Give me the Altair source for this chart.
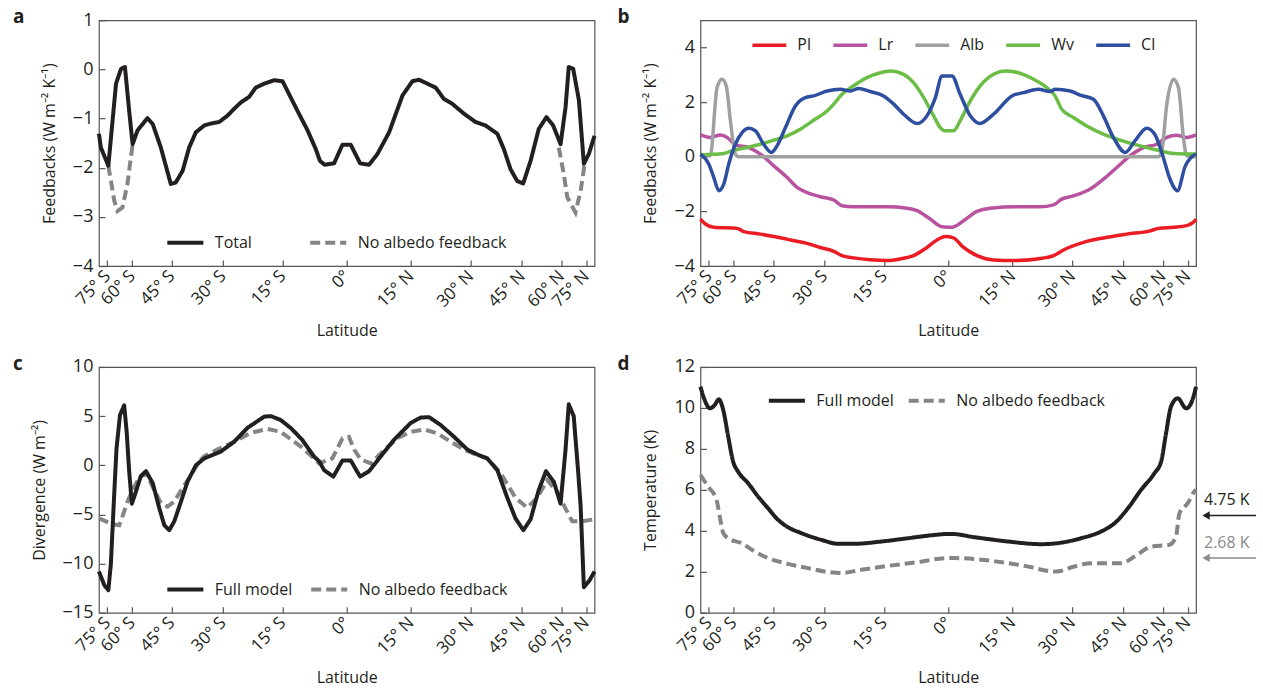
import altair as alt
import numpy as np
import pandas as pd

# ---------------- data (x = sine of latitude) ----------------
TICK_LAT = [-75, -60, -45, -30, -15, 0, 15, 30, 45, 60, 75]
TICK_S = [float(np.sin(np.radians(a))) for a in TICK_LAT]

# panel a
A_TOTAL_X = [-1.0, -0.992, -0.962, -0.931, -0.911, -0.895, -0.878, -0.864, -0.844, -0.804, -0.783, -0.75, -0.71, -0.69,
             -0.662, -0.636, -0.609, -0.575, -0.548, -0.515, -0.481, -0.454, -0.427, -0.394, -0.367, -0.333, -0.293,
             -0.259, -0.233, -0.199, -0.158, -0.125, -0.108, -0.089, -0.051, -0.017, 0.016, 0.054, 0.09, 0.124, 0.171,
             0.225, 0.265, 0.292, 0.359, 0.392, 0.426, 0.473, 0.52, 0.56, 0.608, 0.634, 0.661, 0.688, 0.712, 0.742,
             0.775, 0.806, 0.833, 0.863, 0.883, 0.896, 0.914, 0.937, 0.957, 0.977, 1.0]
A_TOTAL_Y = [-1.31, -1.59, -1.96, -0.29, 0.01, 0.05, -0.84, -1.52, -1.24, -0.99, -1.11, -1.59, -2.33, -2.30,
             -2.06, -1.59, -1.28, -1.14, -1.10, -1.07, -0.94, -0.80, -0.67, -0.56, -0.37, -0.29, -0.22,
             -0.24, -0.50, -0.84, -1.24, -1.62, -1.86, -1.94, -1.91, -1.53, -1.53, -1.91, -1.94, -1.72, -1.28,
             -0.53, -0.24, -0.21, -0.37, -0.60, -0.70, -0.90, -1.07, -1.14, -1.31, -1.62, -2.03, -2.27, -2.32, -1.86,
             -1.21, -0.97, -1.14, -1.52, -0.77, 0.05, 0.01, -0.63, -1.92, -1.72, -1.35]
A_NOALB_S_X = [-0.962, -0.938, -0.925, -0.905, -0.885, -0.864]
A_NOALB_S_Y = [-1.96, -2.67, -2.88, -2.81, -2.33, -1.52]
A_NOALB_N_X = [0.856, 0.876, 0.89, 0.923, 0.944, 0.96]
A_NOALB_N_Y = [-1.59, -2.13, -2.60, -2.91, -2.47, -1.92]

# panel b
B_PL_X = [-1, -0.98, -0.946, -0.852, -0.825, -0.758, -0.704, -0.623, -0.57, -0.516, -0.462, -0.429, -0.382, -0.315,
          -0.247, -0.194, -0.14, -0.086, -0.039, -0.012, 0.021, 0.062, 0.116, 0.183, 0.263, 0.358, 0.425, 0.465,
          0.546, 0.626, 0.72, 0.815, 0.848, 0.909, 0.962, 0.989, 1]
B_PL_Y = [-2.28, -2.46, -2.58, -2.62, -2.74, -2.83, -2.92, -3.07, -3.17, -3.32, -3.46, -3.62, -3.70, -3.77,
          -3.80, -3.74, -3.62, -3.32, -3.01, -2.92, -2.97, -3.32, -3.62, -3.78, -3.80, -3.74, -3.62, -3.41,
          -3.13, -2.97, -2.83, -2.71, -2.62, -2.58, -2.52, -2.40, -2.28]
B_LR_X = [-1, -0.96, -0.919, -0.892, -0.859, -0.805, -0.758, -0.704, -0.65, -0.61, -0.57, -0.516, -0.462, -0.429,
          -0.382, -0.247, -0.166, -0.126, -0.073, -0.025, 0.015, 0.062, 0.116, 0.169, 0.277, 0.371, 0.425, 0.458,
          0.505, 0.573, 0.626, 0.68, 0.734, 0.788, 0.841, 0.882, 0.922, 0.962, 1]
B_LR_Y = [0.80, 0.71, 0.80, 0.71, 0.44, 0.34, 0.10, -0.33, -0.76, -1.12, -1.31, -1.46, -1.58, -1.79,
          -1.83, -1.83, -1.88, -1.97, -2.28, -2.56, -2.58, -2.34, -2.00, -1.88, -1.83, -1.83, -1.76, -1.55,
          -1.43, -1.18, -0.82, -0.39, 0.04, 0.34, 0.46, 0.71, 0.79, 0.71, 0.80]
B_ALB_X = [-1, -0.96, -0.933, -0.913, -0.896, -0.879, -0.859, -0.845, 0.848, 0.862, 0.882, 0.909, 0.929, 0.949,
           0.962, 1]
B_ALB_Y = [0.0, 0.05, 2.53, 2.84, 2.60, 1.32, 0.10, 0.0, 0.0, 0.22, 1.93, 2.84, 2.53, 0.71, 0.04, 0.0]
B_WV_X = [-1, -0.906, -0.866, -0.812, -0.758, -0.704, -0.65, -0.597, -0.543, -0.489, -0.462, -0.429, -0.382, -0.328,
          -0.274, -0.234, -0.18, -0.14, -0.099, -0.059, -0.032, -0.012, 0.021, 0.048, 0.089, 0.129, 0.183, 0.23,
          0.283, 0.344, 0.398, 0.431, 0.458, 0.505, 0.559, 0.626, 0.694, 0.774, 0.855, 0.909, 1]
B_WV_Y = [0.07, 0.12, 0.24, 0.34, 0.46, 0.61, 0.77, 1.01, 1.34, 1.68, 1.93, 2.29, 2.60, 2.90,
          3.08, 3.14, 3.02, 2.72, 2.17, 1.50, 1.07, 0.95, 0.95, 1.32, 2.05, 2.60, 3.02, 3.14,
          3.08, 2.84, 2.53, 2.23, 1.74, 1.44, 1.13, 0.83, 0.61, 0.40, 0.22, 0.12, 0.10]
B_CL_X = [-1, -0.966, -0.946, -0.926, -0.906, -0.886, -0.859, -0.832, -0.805, -0.778, -0.745, -0.714, -0.691, -0.657,
          -0.617, -0.577, -0.543, -0.489, -0.435, -0.395, -0.362, -0.315, -0.261, -0.22, -0.18, -0.126, -0.086,
          -0.052, -0.025, 0.015, 0.048, 0.089, 0.127, 0.183, 0.257, 0.304, 0.364, 0.411, 0.431, 0.492, 0.532,
          0.586, 0.626, 0.667, 0.714, 0.754, 0.801, 0.835, 0.862, 0.895, 0.925, 0.956, 1]
B_CL_Y = [0.10, -0.27, -0.76, -1.24, -1.00, -0.27, 0.46, 0.89, 1.05, 0.95, 0.46, 0.16, 0.40, 1.07,
          1.86, 2.17, 2.23, 2.41, 2.47, 2.41, 2.50, 2.39, 2.23, 1.93, 1.56, 1.22, 1.50,
          2.17, 2.96, 2.96, 2.29, 1.50, 1.22, 1.56, 2.23, 2.35, 2.47, 2.39, 2.47, 2.41, 2.26,
          2.11, 1.50, 0.70, 0.16, 0.59, 1.05, 0.80, 0.15, -0.82, -1.24, -0.35, 0.10]

# panel c
C_FULL_X = [-1, -0.978, -0.962, -0.952, -0.939, -0.929, -0.915, -0.898, -0.888, -0.878, -0.867, -0.851, -0.831,
            -0.81, -0.783, -0.756, -0.736, -0.716, -0.696, -0.669, -0.643, -0.609, -0.575, -0.508, -0.454, -0.401,
            -0.333, -0.306, -0.266, -0.226, -0.18, -0.132, -0.111, -0.091, -0.054, -0.017, 0.016, 0.054, 0.09,
            0.137, 0.191, 0.258, 0.298, 0.332, 0.379, 0.433, 0.487, 0.527, 0.567, 0.608, 0.648, 0.681, 0.713,
            0.742, 0.775, 0.804, 0.836, 0.863, 0.883, 0.896, 0.916, 0.935, 0.944, 0.957, 0.980, 1]
C_FULL_Y = [-10.8, -12.2, -12.7, -10.1, -3.3, 1.7, 5.1, 6.1, 3.4, -0.6, -3.9, -2.7, -1.1,
            -0.6, -1.8, -4.4, -6.1, -6.6, -5.7, -3.7, -1.7, 0.0, 0.7, 1.4, 2.4, 3.8,
            4.95, 5.0, 4.6, 3.8, 2.6, 0.9, 0.4, -0.5, -1.15, 0.5, 0.5, -1.15, -0.6,
            0.9, 2.6, 4.3, 4.85, 4.9, 4.1, 2.9, 1.6, 1.1, 0.7, -0.5, -3.3, -5.4, -6.6,
            -5.5, -2.5, -0.6, -1.7, -3.9, 1.6, 6.2, 5.0, -1.0, -4.2, -12.4, -11.7, -10.8]
C_NOALB_X = [-1, -0.972, -0.945, -0.918, -0.905, -0.885, -0.864, -0.838, -0.81, -0.777, -0.75, -0.723, -0.696,
             -0.662, -0.629, -0.595, -0.575, -0.523, -0.454, -0.387, -0.32, -0.266, -0.185, -0.111, -0.058,
             -0.017, 0.009, 0.03, 0.056, 0.097, 0.137, 0.204, 0.258, 0.312, 0.366, 0.419, 0.473, 0.527, 0.567,
             0.621, 0.681, 0.728, 0.769, 0.809, 0.849, 0.883, 0.91, 0.95, 0.984, 1]
C_NOALB_Y = [-5.4, -5.7, -6.0, -6.1, -5.2, -3.7, -2.5, -1.3, -0.8, -2.5, -3.85, -4.2, -3.7,
             -2.3, -1.0, 0.4, 0.9, 1.6, 2.4, 3.3, 3.7, 3.4, 1.9, 0.2, 0.7,
             2.75, 2.9, 1.6, 0.6, 0.2, 1.2, 2.75, 3.4, 3.65, 3.25, 2.4, 1.6, 1.05, 0.7,
             -0.8, -3.3, -4.3, -3.3, -1.5, -2.7, -4.4, -5.7, -5.7, -5.55, -5.5]

# panel d
D_FULL_X = [-1, -0.983, -0.962, -0.942, -0.926, -0.908, -0.888, -0.868, -0.848, -0.808, -0.767, -0.727, -0.687,
            -0.647, -0.593, -0.512, -0.445, -0.378, -0.27, -0.163, -0.055, 0, 0.012, 0.106, 0.241, 0.375, 0.442,
            0.536, 0.617, 0.671, 0.725, 0.778, 0.832, 0.859, 0.879, 0.899, 0.926, 0.96, 0.98, 1]
D_FULL_Y = [11.04, 10.39, 9.98, 10.15, 10.42, 9.9, 8.6, 7.38, 6.89, 6.33, 5.67, 5.1, 4.54,
            4.18, 3.89, 3.56, 3.37, 3.37, 3.48, 3.64, 3.8, 3.85, 3.85, 3.69, 3.48, 3.35, 3.4,
            3.64, 3.97, 4.37, 5.1, 6.0, 6.81, 7.38, 8.77, 10.07, 10.47, 9.98, 10.23, 11.04]
D_NOALB_X = [-1, -0.969, -0.935, -0.922, -0.908, -0.888, -0.835, -0.781, -0.727, -0.647, -0.566, -0.485, -0.431,
             -0.351, -0.243, -0.136, 0, 0.025, 0.173, 0.308, 0.435, 0.509, 0.577, 0.698, 0.752, 0.819, 0.893,
             0.919, 0.933, 0.967, 0.993, 1]
D_NOALB_Y = [6.73, 6.16, 5.51, 4.7, 3.89, 3.64, 3.4, 2.99, 2.67, 2.39, 2.18, 1.99, 1.94,
             2.1, 2.29, 2.45, 2.67, 2.67, 2.54, 2.29, 2.01, 2.26, 2.42, 2.42, 2.75, 3.23, 3.32,
             3.72, 4.86, 5.35, 5.92, 6.0]
D_MEANS = [4.75, 2.68]
D_MEAN_LABELS = ["4.75 K", "2.68 K"]

# ---------------- styling ----------------
W, H = 496, 246
FONT = "Open Sans"
BLACK = "#231f20"
GRAY = "#858585"
DASH = [10, 5]
LABEL_EXPR = ("abs(round(asin(datum.value)*180/PI)) == 0 ? '0°' : "
              "abs(round(asin(datum.value)*180/PI)) + '° ' + (datum.value < 0 ? 'S' : 'N')")


def frame(parts):
    rows = []
    for name, seg, xs, ys in parts:
        for x, y in zip(xs, ys):
            rows.append({"s": x, "v": y, "series": name, "seg": seg})
    return pd.DataFrame(rows)


def xenc():
    return alt.X("s:Q", scale=alt.Scale(domain=[-1, 1], nice=False, zero=False),
                 axis=alt.Axis(values=TICK_S, labelExpr=LABEL_EXPR, title="Latitude", labelOverlap=False))


def yenc(dom, vals, title):
    return alt.Y("v:Q", scale=alt.Scale(domain=dom, nice=False, zero=False),
                 axis=alt.Axis(values=vals, title=title, labelOverlap=False))


def legend(x, y, colpad, symsize=1300, sw=4):
    return alt.Legend(orient="none", legendX=x, legendY=y, direction="horizontal", title=None,
                      symbolType="stroke", symbolSize=symsize, symbolStrokeWidth=sw,
                      labelFontSize=16, labelFont=FONT, labelColor=BLACK, columnPadding=colpad,
                      labelOffset=9, padding=0, symbolOpacity=1)


def tag(letter, x):
    return alt.Chart(pd.DataFrame({"t": [letter]})).mark_text(
        align="left", baseline="alphabetic", fontSize=19, fontWeight="bold", font=FONT, color=BLACK
    ).encode(text="t:N", x=alt.value(x), y=alt.value(3))


def two_series_panel(df, names, ydom, yvals, ytitle, leg, interp, letter, tagx):
    col = alt.Color("series:N", scale=alt.Scale(domain=names, range=[BLACK, GRAY]), legend=leg)
    dash = alt.StrokeDash("series:N", scale=alt.Scale(domain=names, range=[[1, 0], DASH]), legend=leg)
    base = alt.Chart(df).encode(x=xenc(), y=yenc(ydom, yvals, ytitle), color=col, strokeDash=dash,
                                detail="seg:N")
    dashed = base.transform_filter(alt.datum.series == names[1]).mark_line(
        strokeWidth=4, interpolate=interp, strokeCap="butt")
    solid = base.transform_filter(alt.datum.series == names[0]).mark_line(
        strokeWidth=4, interpolate=interp, strokeJoin="round")
    return [dashed, solid, tag(letter, tagx)]


# panel a
dfa = frame([("Total", "t", A_TOTAL_X, A_TOTAL_Y),
             ("No albedo feedback", "s", A_NOALB_S_X, A_NOALB_S_Y),
             ("No albedo feedback", "n", A_NOALB_N_X, A_NOALB_N_Y)])
pa = alt.layer(*two_series_panel(dfa, ["Total", "No albedo feedback"], [-4, 1], [-4, -3, -2, -1, 0, 1],
                                 "Feedbacks (W m⁻² K⁻¹)", legend(66, 202, 49), "linear", "a", -86)
               ).properties(width=W, height=H)

# panel b
B_NAMES = ["Pl", "Lr", "Alb", "Wv", "Cl"]
B_COLORS = ["#ec1c24", "#b9529f", "#a0a0a0", "#6cbd45", "#2e4f9f"]
dfb = frame([("Pl", "Pl", B_PL_X, B_PL_Y), ("Lr", "Lr", B_LR_X, B_LR_Y), ("Alb", "Alb", B_ALB_X, B_ALB_Y),
             ("Wv", "Wv", B_WV_X, B_WV_Y), ("Cl", "Cl", B_CL_X, B_CL_Y)])
pb_lines = alt.Chart(dfb).mark_line(strokeWidth=3.5, interpolate="monotone").encode(
    x=xenc(), y=yenc([-4, 5], [-4, -2, 0, 2, 4], "Feedbacks (W m⁻² K⁻¹)"),
    color=alt.Color("series:N", scale=alt.Scale(domain=B_NAMES, range=B_COLORS),
                    legend=legend(50, 6, 15, 1150, 3.5)),
    order=alt.Order("s:Q"))
pb = alt.layer(pb_lines, tag("b", -83)).properties(width=W, height=H)

# panel c
dfc = frame([("Full model", "f", C_FULL_X, C_FULL_Y), ("No albedo feedback", "n", C_NOALB_X, C_NOALB_Y)])
pc = alt.layer(*two_series_panel(dfc, ["Full model", "No albedo feedback"], [-15, 10], [-15, -10, -5, 0, 5, 10],
                                 "Divergence (W m⁻²)", legend(66, 202, 10), "linear", "c", -86)
               ).properties(width=W, height=H)

# panel d
dfd = frame([("Full model", "f", D_FULL_X, D_FULL_Y), ("No albedo feedback", "n", D_NOALB_X, D_NOALB_Y)])
d_layers = two_series_panel(dfd, ["Full model", "No albedo feedback"], [0, 12], [0, 2, 4, 6, 8, 10, 12],
                            "Temperature (K)", legend(66, 13, 6), "monotone", "d", -83)
ANN_COLORS = [BLACK, "#8a8a8a"]
for val, lab, colr in zip(D_MEANS, D_MEAN_LABELS, ANN_COLORS):
    adf = pd.DataFrame({"v": [val], "lab": [lab]})
    yv = alt.Y("v:Q", scale=alt.Scale(domain=[0, 12], nice=False, zero=False))
    d_layers.append(alt.Chart(adf).mark_rule(color=colr, strokeWidth=1.5).encode(
        x=alt.value(W + 9), x2=alt.value(W + 60), y=yv))
    d_layers.append(alt.Chart(adf).mark_point(shape="triangle-left", filled=True, color=colr, size=70,
                                              opacity=1).encode(x=alt.value(W + 10), y=yv))
    d_layers.append(alt.Chart(adf).mark_text(align="left", baseline="alphabetic", dy=-10, fontSize=16,
                                             font=FONT, color=colr).encode(x=alt.value(W + 8), y=yv,
                                                                           text="lab:N"))
pd_ = alt.layer(*d_layers).properties(width=W, height=H)

chart = alt.concat(pa, pb, pc, pd_, columns=2, spacing={"row": 101, "column": 106}, bounds="flush").resolve_scale(
    color="independent", strokeDash="independent"
).properties(
    padding={"left": 12, "top": 7, "right": 5, "bottom": 5}
).configure_view(
    stroke="#555555", strokeWidth=1.2
).configure_axis(
    labelFont=FONT, titleFont=FONT, labelFontSize=18, titleFontSize=16, titleFontWeight="normal",
    tickSize=6, offset=-6, domain=False, grid=False, tickColor="#555555", tickWidth=1.2,
    labelColor=BLACK, titleColor=BLACK, labelPadding=6, titlePadding=15
).configure_axisX(
    labelFontSize=17, labelAngle=-45, labelAlign="right", labelBaseline="middle", labelPadding=7,
    titlePadding=13
)

chart.save("out.html", embed_options={"renderer": "svg", "actions": False})
